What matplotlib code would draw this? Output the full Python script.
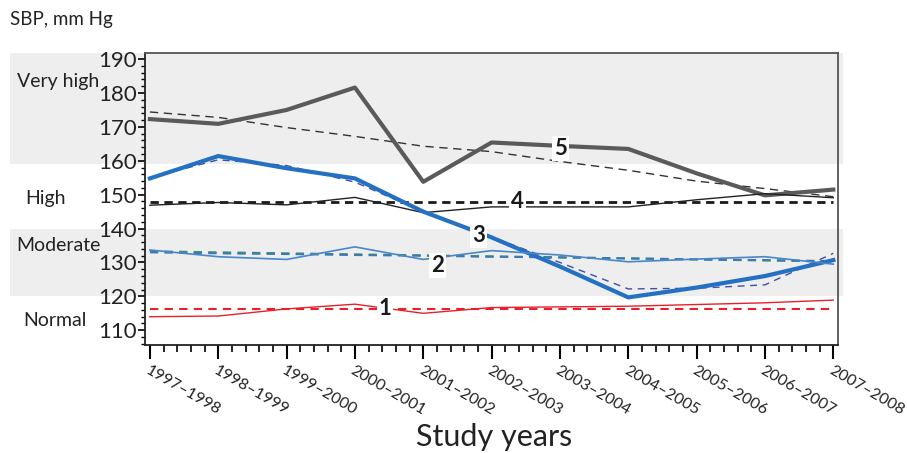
import matplotlib
matplotlib.use('Agg')
import matplotlib.pyplot as plt
from matplotlib.patches import Rectangle
from matplotlib.transforms import blended_transform_factory, ScaledTranslation
from matplotlib.ticker import MultipleLocator

plt.rcParams['font.family'] = ['Lato', 'DejaVu Sans']

years = ['1997\u20131998', '1998\u20131999', '1999\u20132000', '2000\u20132001',
         '2001\u20132002', '2002\u20132003', '2003\u20132004', '2004\u20132005',
         '2005\u20132006', '2006\u20132007', '2007\u20132008']

# observed SBP by group (1 = normal ... 5 = very high)
g1 = [114.0, 114.2, 116.3, 117.7, 115.0, 116.7, 116.9, 117.1, 117.6, 118.1, 118.9]
g2 = [133.7, 131.7, 130.9, 134.6, 130.9, 133.5, 132.2, 130.2, 131.0, 131.7, 129.5]
g3 = [154.8, 161.4, 157.8, 154.8, 145.0, 137.4, 128.8, 119.7, 122.6, 126.0, 130.7]
g4 = [146.9, 147.7, 147.0, 149.2, 144.7, 146.4, 146.4, 146.4, 148.5, 150.3, 149.1]
g5 = [172.3, 170.9, 175.0, 181.6, 153.8, 165.4, 164.4, 163.5, 156.3, 149.8, 151.5]

# fitted trends
t1 = [116.4, 116.4, 116.4, 116.4, 116.4, 116.4, 116.4, 116.4, 116.4, 116.4, 116.4]
t2 = [133.0, 132.7, 132.5, 132.2, 132.0, 131.7, 131.5, 131.2, 130.9, 130.7, 130.4]
t2b = [133.3, 133.0, 132.7, 132.4, 132.1, 131.8, 131.5, 131.2, 130.9, 130.6, 130.3]
t3 = [155.0, 160.3, 158.6, 153.7, 145.0, 137.5, 130.0, 122.2, 122.4, 123.4, 132.7]
t4 = [147.7, 147.7, 147.7, 147.7, 147.7, 147.7, 147.7, 147.7, 147.7, 147.7, 147.7]
t5 = [174.4, 172.8, 169.8, 167.2, 164.3, 162.7, 159.8, 157.2, 154.0, 151.8, 149.4]

bands = [(159, 191.8), (120, 140)]
band_names = ['Very high', 'High', 'Moderate', 'Normal']
band_name_pos = [(0.064, 183.5), (0.050, 149.0), (0.064, 135.0), (0.061, 113.0)]
group_labels = ['1', '2', '3', '4', '5']
group_label_pos = [(3.44, 116.5), (4.21, 129.2), (4.81, 138.1), (5.38, 148.1), (6.01, 163.7)]

fig = plt.figure(figsize=(9.07, 4.53), dpi=100)
ax = fig.add_axes([0.160, 0.238, 0.764, 0.645])
ax.patch.set_visible(False)
x = list(range(len(years)))

tr = blended_transform_factory(fig.transFigure, ax.transData)
for lo, hi in bands:
    ax.add_patch(Rectangle((0.011, lo), 0.918, hi - lo, transform=tr, clip_on=False,
                           facecolor='#eeeeee', edgecolor='none', zorder=0))

ax.plot(x, t5, color='#333333', lw=1.0, dashes=(6, 4), zorder=3)
ax.plot(x, g5, color='#5a5a5a', lw=3.0, zorder=4)
ax.plot(x, t4, color='#1a1a1a', lw=2.0, dashes=(3, 2), zorder=3)
ax.plot(x, g4, color='#222222', lw=1.0, zorder=4)
ax.plot(x, t3, color='#3f4fa8', lw=1.0, dashes=(5, 4), zorder=3)
ax.plot(x, g3, color='#2470c2', lw=3.0, zorder=4)
ax.plot(x, t2b, color='#3c9a5a', lw=1.5, dashes=(4, 3), zorder=3)
ax.plot(x, t2, color='#3a78b8', lw=1.5, dashes=(4, 3), zorder=3)
ax.plot(x, g2, color='#4a86c8', lw=1.2, zorder=4)
ax.plot(x, t1, color='#e8202a', lw=1.5, dashes=(4, 3), zorder=3)
ax.plot(x, g1, color='#e8202a', lw=1.0, zorder=4)

for lab, (lx, ly) in zip(group_labels, group_label_pos):
    ax.text(lx, ly, lab, fontsize=16, fontweight='bold', color='#1a1a1a',
            ha='center', va='center', zorder=6,
            bbox=dict(facecolor='white', edgecolor='none', pad=1.5))

ax.set_xlim(-0.07, 10.07)
ax.set_ylim(105.6, 191.8)
ax.set_yticks([110, 120, 130, 140, 150, 160, 170, 180, 190])
ax.yaxis.set_minor_locator(MultipleLocator(2))
ax.set_xticks(x)
ax.xaxis.set_minor_locator(MultipleLocator(0.2))
ax.set_xticklabels(years, rotation=-30, ha='left', va='top',
                   rotation_mode='anchor', fontsize=11.5, color='#222222')
shift = ScaledTranslation(-5 / 100, 0, fig.dpi_scale_trans)
for lbl in ax.get_xticklabels():
    lbl.set_transform(lbl.get_transform() + shift)
ax.tick_params(axis='y', which='major', labelsize=16, length=5, width=1.2,
               labelcolor='#222222', pad=1)
ax.tick_params(axis='y', which='minor', length=3, width=1.0)
ax.tick_params(axis='x', which='major', length=10, width=1.5, pad=3)
ax.tick_params(axis='x', which='minor', length=5, width=1.2)
for s in ['left', 'bottom']:
    ax.spines[s].set_color('#222222')
    ax.spines[s].set_linewidth(1.3)
for s in ['top', 'right']:
    ax.spines[s].set_color('#555555')
    ax.spines[s].set_linewidth(1.3)

for name, (nx, ny) in zip(band_names, band_name_pos):
    fig.text(nx, 0, name, transform=blended_transform_factory(fig.transFigure, ax.transData),
             ha='center', va='center', fontsize=14, color='#222222')
    fig.texts[-1].set_y(ny)

fig.text(0.011, 0.956, 'SBP, mm Hg', fontsize=13.5, color='#222222', ha='left', va='center')
fig.text(0.545, 0.035, 'Study years', fontsize=22, color='#222222', ha='center', va='center')

fig.savefig('out.png', dpi=100)
